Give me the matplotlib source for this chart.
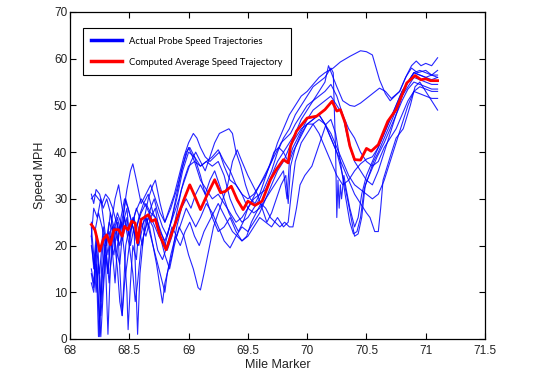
import matplotlib
matplotlib.use('Agg')
import matplotlib.pyplot as plt
from matplotlib.lines import Line2D

# probe trajectories, (mile marker, speed mph)
probe1 = [(68.18, 30), (68.21, 31), (68.24, 30), (68.27, 29), (68.30, 31), (68.33, 30), (68.36, 28), (68.39, 25),
          (68.42, 23), (68.45, 27), (68.48, 32), (68.51, 36), (68.53, 37.5), (68.56, 34), (68.60, 29), (68.64, 31),
          (68.68, 33), (68.72, 30), (68.76, 27), (68.80, 25), (68.84, 28), (68.88, 31), (68.92, 35), (68.96, 39),
          (69.00, 42), (69.04, 44), (69.07, 43), (69.10, 41), (69.14, 39), (69.18, 38), (69.22, 39), (69.26, 40),
          (69.30, 37), (69.35, 34), (69.40, 33), (69.45, 31), (69.50, 30), (69.55, 31), (69.60, 33), (69.65, 35),
          (69.70, 38), (69.75, 42), (69.80, 45), (69.85, 48), (69.90, 50), (69.95, 52), (70.00, 53), (70.05, 54.5),
          (70.10, 56), (70.15, 57), (70.22, 58), (70.28, 59.3), (70.36, 60.5), (70.45, 61.7), (70.50, 61.5),
          (70.55, 60.8), (70.61, 55.5), (70.66, 52.5), (70.70, 51), (70.78, 53), (70.84, 56.5), (70.88, 58.5),
          (70.92, 59.5), (70.96, 58.5), (71.00, 59), (71.05, 58.5), (71.10, 60.2)]
probe2 = [(68.18, 14), (68.20, 11), (68.22, 18), (68.24, 0.5), (68.26, 12), (68.28, 22), (68.30, 16), (68.32, 1),
          (68.34, 15), (68.38, 24), (68.42, 20), (68.46, 26), (68.50, 22), (68.55, 27), (68.60, 30), (68.65, 28),
          (68.70, 25), (68.75, 22), (68.80, 20), (68.85, 25), (68.90, 30), (68.95, 36), (69.00, 40), (69.05, 39),
          (69.10, 37), (69.15, 38), (69.20, 37), (69.25, 38), (69.30, 35), (69.35, 30), (69.40, 27), (69.45, 25),
          (69.50, 26), (69.55, 28), (69.60, 30), (69.65, 33), (69.70, 36), (69.75, 40), (69.80, 43), (69.85, 45),
          (69.90, 48), (69.95, 50), (70.00, 52), (70.05, 54), (70.10, 55), (70.15, 56), (70.20, 58), (70.22, 57),
          (70.24, 40), (70.25, 26), (70.26, 34), (70.27, 28), (70.28, 33), (70.29, 30), (70.31, 35), (70.33, 32),
          (70.36, 28), (70.40, 24), (70.43, 26), (70.46, 31), (70.50, 35), (70.55, 38), (70.60, 41), (70.65, 44),
          (70.70, 47), (70.75, 50), (70.80, 53), (70.85, 55), (70.90, 57), (70.95, 56.5), (71.00, 56), (71.05, 55.5),
          (71.10, 56)]
probe3 = [(68.18, 22), (68.20, 15), (68.23, 22), (68.26, 8), (68.29, 20), (68.33, 23), (68.37, 18), (68.40, 25),
          (68.44, 5), (68.47, 20), (68.50, 24), (68.54, 26), (68.58, 20), (68.62, 25), (68.66, 30), (68.70, 33),
          (68.72, 34), (68.76, 29), (68.80, 25), (68.85, 28), (68.90, 32), (68.95, 37), (69.00, 41), (69.05, 38),
          (69.10, 34), (69.15, 32), (69.20, 30), (69.25, 31), (69.30, 29), (69.35, 27), (69.40, 25), (69.45, 26),
          (69.50, 28), (69.55, 30), (69.60, 31), (69.65, 32), (69.70, 35), (69.75, 38), (69.80, 40), (69.85, 42),
          (69.90, 44), (69.95, 47), (70.00, 49), (70.05, 51), (70.10, 53), (70.15, 55), (70.18, 58.5), (70.25, 54),
          (70.30, 51), (70.36, 50), (70.40, 49.8), (70.45, 50.5), (70.50, 51.5), (70.55, 52.5), (70.61, 53.7),
          (70.66, 53), (70.71, 51.5), (70.78, 53), (70.83, 56), (70.88, 58), (70.93, 57), (71.00, 57.5),
          (71.05, 56.5), (71.10, 57.5)]
probe4 = [(68.18, 12), (68.20, 10), (68.22, 16), (68.24, 8), (68.26, 0.5), (68.28, 10), (68.30, 18), (68.32, 14),
          (68.34, 20), (68.36, 24), (68.39, 19), (68.42, 16), (68.45, 25), (68.48, 28), (68.50, 22), (68.53, 26),
          (68.56, 24), (68.60, 27), (68.64, 29), (68.68, 27), (68.72, 26), (68.76, 23), (68.80, 21), (68.84, 24),
          (68.88, 27), (68.92, 30), (68.96, 34), (69.00, 37), (69.05, 38), (69.10, 37), (69.15, 38), (69.20, 39),
          (69.25, 40.5), (69.30, 38), (69.35, 36), (69.40, 33), (69.45, 31), (69.50, 28), (69.55, 27), (69.60, 28),
          (69.65, 30), (69.70, 32), (69.75, 34), (69.80, 36), (69.83, 30), (69.85, 38), (69.88, 40), (69.92, 42),
          (69.96, 44), (70.00, 46), (70.05, 47), (70.10, 48), (70.15, 46), (70.20, 43), (70.25, 40), (70.30, 35),
          (70.34, 30), (70.37, 26), (70.40, 22), (70.43, 22.5), (70.46, 26), (70.49, 33), (70.54, 36), (70.59, 39),
          (70.65, 42), (70.70, 45), (70.75, 48), (70.80, 51), (70.85, 53.5), (70.90, 55), (70.95, 54.5),
          (71.00, 54), (71.05, 53.5), (71.10, 53.5)]
probe5 = [(68.18, 20), (68.20, 16), (68.22, 22), (68.25, 0.5), (68.27, 14), (68.30, 20), (68.33, 12), (68.36, 22),
          (68.40, 26), (68.44, 21), (68.48, 26), (68.51, 20), (68.54, 24), (68.57, 1), (68.59, 14), (68.62, 22),
          (68.66, 26), (68.70, 24), (68.74, 19), (68.78, 17), (68.82, 20), (68.86, 24), (68.90, 22), (68.94, 25),
          (68.98, 28), (69.02, 26), (69.06, 24), (69.10, 26), (69.15, 29), (69.20, 27), (69.25, 24), (69.30, 21),
          (69.35, 19.5), (69.40, 22), (69.45, 24), (69.50, 23), (69.55, 25), (69.60, 27), (69.65, 30), (69.70, 33),
          (69.75, 36), (69.80, 38), (69.85, 41), (69.90, 43), (69.95, 45), (70.00, 46), (70.05, 47), (70.10, 48),
          (70.15, 46), (70.20, 43), (70.25, 40), (70.30, 37), (70.35, 34), (70.40, 31), (70.45, 29), (70.50, 27),
          (70.53, 26), (70.57, 23), (70.60, 23), (70.62, 28), (70.64, 34), (70.70, 39), (70.75, 43), (70.81, 45),
          (70.87, 50), (70.91, 54), (70.95, 55), (71.00, 53), (71.05, 51), (71.10, 49)]
probe6 = [(68.18, 25), (68.21, 23), (68.24, 27), (68.27, 24), (68.30, 20), (68.33, 25), (68.36, 23), (68.40, 27),
          (68.44, 24), (68.47, 30), (68.50, 27), (68.54, 23), (68.57, 20), (68.60, 24), (68.64, 26), (68.68, 22),
          (68.72, 18), (68.76, 14), (68.80, 10), (68.82, 14), (68.85, 18), (68.89, 22), (68.93, 20), (68.97, 23),
          (69.01, 25), (69.05, 22), (69.09, 20), (69.13, 23), (69.17, 25), (69.21, 27), (69.25, 29), (69.29, 27),
          (69.33, 25), (69.37, 23), (69.41, 22), (69.45, 21), (69.49, 22), (69.53, 25), (69.57, 27), (69.61, 29),
          (69.65, 28), (69.69, 26), (69.73, 25), (69.77, 24), (69.81, 25), (69.85, 24), (69.88, 24), (69.91, 28),
          (69.94, 33), (69.98, 35), (70.04, 37), (70.08, 40), (70.12, 43), (70.16, 46), (70.20, 47), (70.24, 44),
          (70.28, 38), (70.32, 31), (70.36, 25), (70.39, 22.5), (70.42, 23), (70.45, 26), (70.48, 32), (70.52, 35),
          (70.56, 38), (70.60, 40), (70.65, 43), (70.70, 46), (70.75, 49), (70.80, 52), (70.85, 54), (70.90, 56),
          (70.95, 55.5), (71.00, 55), (71.05, 54.5), (71.10, 54.5)]
probe7 = [(68.18, 15), (68.20, 12), (68.22, 20), (68.25, 14), (68.28, 24), (68.31, 20), (68.34, 27), (68.37, 24),
          (68.40, 21), (68.43, 26), (68.46, 30), (68.49, 28), (68.52, 25), (68.55, 22), (68.58, 26), (68.62, 29),
          (68.66, 31), (68.70, 27), (68.74, 25), (68.78, 22), (68.82, 19), (68.86, 22), (68.90, 27), (68.94, 32),
          (68.98, 35), (69.02, 38), (69.06, 40), (69.10, 38), (69.14, 36), (69.18, 39), (69.22, 42), (69.26, 44),
          (69.30, 44.5), (69.34, 45), (69.37, 44), (69.40, 40), (69.44, 37), (69.48, 33), (69.52, 30), (69.56, 29),
          (69.60, 31), (69.64, 34), (69.68, 37), (69.72, 40), (69.76, 41), (69.80, 40), (69.84, 38), (69.88, 41),
          (69.92, 43), (69.96, 45), (70.00, 47), (70.05, 49), (70.10, 50), (70.15, 51), (70.20, 52), (70.25, 50),
          (70.30, 48), (70.35, 45), (70.40, 43), (70.45, 40), (70.50, 38), (70.55, 37), (70.60, 38), (70.65, 41),
          (70.70, 43), (70.75, 45), (70.80, 48), (70.85, 51), (70.90, 53), (70.95, 52.5), (71.00, 52),
          (71.05, 51.5), (71.10, 51.5)]
probe8 = [(68.18, 31), (68.20, 29), (68.22, 32), (68.25, 31), (68.28, 28), (68.31, 30), (68.34, 27), (68.37, 22),
          (68.40, 15), (68.42, 8), (68.44, 5), (68.46, 12), (68.49, 18), (68.52, 24), (68.56, 28), (68.60, 25),
          (68.64, 22), (68.68, 26), (68.72, 28), (68.76, 22), (68.80, 18), (68.84, 15), (68.88, 20), (68.92, 24),
          (68.96, 22), (69.00, 18), (69.04, 15), (69.08, 11), (69.10, 10.5), (69.13, 14), (69.17, 19), (69.21, 24),
          (69.25, 27), (69.29, 30), (69.33, 33), (69.37, 38), (69.41, 40.5), (69.45, 38), (69.50, 35), (69.54, 33),
          (69.58, 31), (69.62, 28), (69.66, 25), (69.70, 27), (69.74, 30), (69.78, 33), (69.82, 35), (69.84, 29),
          (69.86, 37), (69.90, 41), (69.95, 44), (70.00, 46), (70.05, 46), (70.10, 44), (70.15, 41), (70.20, 38),
          (70.25, 35), (70.30, 33), (70.35, 34), (70.40, 36), (70.45, 37.5), (70.50, 38.5), (70.55, 39), (70.60, 41),
          (70.65, 44), (70.70, 47), (70.75, 50), (70.80, 53), (70.85, 55), (70.90, 57), (70.95, 56.5), (71.00, 56),
          (71.05, 56.5), (71.10, 56.5)]
probe9 = [(68.18, 24), (68.20, 18), (68.22, 10), (68.24, 16), (68.26, 5), (68.28, 12), (68.30, 20), (68.32, 14),
          (68.34, 22), (68.36, 18), (68.38, 12), (68.40, 20), (68.43, 25), (68.46, 18), (68.48, 10), (68.49, 2),
          (68.51, 12), (68.53, 20), (68.56, 17), (68.58, 24), (68.61, 20), (68.64, 26), (68.67, 24), (68.70, 20),
          (68.73, 16), (68.76, 11), (68.78, 7.7), (68.80, 12), (68.83, 15), (68.86, 18), (68.90, 24), (68.94, 28),
          (68.98, 30), (69.02, 28), (69.06, 31), (69.10, 33), (69.14, 31), (69.18, 34), (69.22, 36), (69.26, 33),
          (69.30, 30), (69.34, 27), (69.38, 25), (69.42, 23), (69.46, 25), (69.50, 28), (69.54, 30), (69.58, 32),
          (69.62, 34), (69.66, 36), (69.70, 38), (69.74, 40), (69.78, 42), (69.82, 43), (69.86, 44), (69.90, 46),
          (69.95, 48), (70.00, 50), (70.05, 51), (70.10, 52), (70.15, 53), (70.20, 54.5), (70.25, 52), (70.30, 48),
          (70.35, 42), (70.40, 38), (70.45, 36), (70.50, 34), (70.55, 33), (70.60, 36), (70.65, 40), (70.70, 44),
          (70.75, 48), (70.80, 52), (70.85, 55), (70.90, 57), (70.95, 57.5), (71.00, 57), (71.05, 56.5),
          (71.10, 56)]
probe10 = [(68.18, 22), (68.20, 28), (68.23, 26), (68.26, 30), (68.29, 24), (68.32, 18), (68.35, 25), (68.38, 30),
           (68.41, 33), (68.44, 28), (68.47, 24), (68.50, 20), (68.53, 14), (68.55, 8), (68.57, 12), (68.60, 20),
           (68.64, 24), (68.68, 28), (68.71, 30), (68.74, 27), (68.78, 24), (68.82, 22), (68.86, 26), (68.90, 31),
           (68.94, 36), (68.98, 40), (69.01, 41), (69.05, 39), (69.10, 35), (69.15, 30), (69.20, 26), (69.25, 23),
           (69.30, 24), (69.35, 26), (69.40, 23), (69.45, 21), (69.50, 22), (69.55, 24), (69.60, 26), (69.65, 25),
           (69.70, 24), (69.75, 26), (69.80, 24), (69.84, 25), (69.87, 32), (69.90, 38), (69.95, 42), (70.00, 44),
           (70.05, 46), (70.10, 47), (70.15, 46), (70.20, 44), (70.25, 41), (70.30, 38), (70.35, 35), (70.40, 33),
           (70.45, 32), (70.50, 31), (70.55, 30), (70.60, 31), (70.65, 34), (70.70, 38), (70.75, 42), (70.80, 46),
           (70.85, 50), (70.90, 53), (70.95, 54), (71.00, 53.5), (71.05, 53), (71.10, 53)]
probes = [probe1, probe2, probe3, probe4, probe5, probe6, probe7, probe8, probe9, probe10]

# average speed trajectory
avg_mile = [68.18, 68.21, 68.24, 68.25, 68.28, 68.31, 68.34, 68.37, 68.41, 68.44, 68.46, 68.49, 68.52, 68.55,
            68.57, 68.60, 68.66, 68.69, 68.72, 68.76, 68.81, 68.84, 68.90, 68.96, 69.01, 69.04, 69.10, 69.15,
            69.22, 69.27, 69.31, 69.36, 69.41, 69.46, 69.50, 69.56, 69.62, 69.69, 69.74, 69.80, 69.84, 69.86,
            69.91, 70.00, 70.08, 70.15, 70.21, 70.25, 70.28, 70.32, 70.36, 70.40, 70.45, 70.50, 70.54, 70.60,
            70.68, 70.75, 70.84, 70.91, 70.96, 71.00, 71.04, 71.10]
avg_speed = [24.5, 23.4, 20.2, 18.8, 21.3, 22.3, 20.2, 23.4, 23.4, 22.0, 24.1, 23.4, 25.2, 24.8,
             20.6, 25.6, 26.6, 25.2, 25.6, 22.0, 19.1, 21.3, 25.6, 29.8, 33.0, 31.3, 27.7, 30.5,
             34.1, 31.3, 31.6, 32.7, 29.8, 27.7, 29.5, 28.6, 29.5, 34.1, 36.3, 38.4, 37.7, 41.3,
             44.5, 47.3, 47.7, 49.1, 50.9, 48.8, 49.1, 46.3, 41.3, 38.4, 38.3, 40.8, 40.2, 41.6,
             46.6, 49.1, 54.8, 56.4, 55.5, 55.7, 55.3, 55.3]

x_ticks = [68, 68.5, 69, 69.5, 70, 70.5, 71, 71.5]
x_labels = ['68', '68.5', '69', '69.5', '70', '70.5', '71', '71.5']
y_ticks = [0, 10, 20, 30, 40, 50, 60, 70]

plt.rcParams['font.family'] = ['Liberation Sans', 'DejaVu Sans']

fig = plt.figure(figsize=(5.36, 3.77), dpi=100)
ax = fig.add_axes([0.1306, 0.1008, 0.7743, 0.8674])

for p in probes:
    ax.plot([m for m, s in p], [s for m, s in p], color='#0000ff', lw=0.8, alpha=0.85)
ax.plot(avg_mile, avg_speed, color='#ff0000', lw=2.0)

ax.set_xlim(68, 71.5)
ax.set_ylim(0, 70)
ax.set_xticks(x_ticks)
ax.set_xticklabels(x_labels)
ax.set_yticks(y_ticks)
ax.tick_params(direction='in', length=4, width=0.8, top=True, right=True, labelsize=8.5,
               labelcolor='#222222')
ax.tick_params(axis='x', pad=4)
ax.tick_params(axis='y', pad=2)
for sp in ax.spines.values():
    sp.set_linewidth(0.9)
ax.set_xlabel('Mile Marker', fontsize=9, labelpad=2, color='#222222')
ax.set_ylabel('Speed MPH', fontsize=9, labelpad=6, color='#222222')

handles = [Line2D([], [], color='#0000ff', lw=2.5), Line2D([], [], color='#ff0000', lw=2.5)]
leg = ax.legend(handles, ['Actual Probe Speed Trajectories', 'Computed Average Speed Trajectory'],
                loc='upper left', bbox_to_anchor=(0.031, 0.951), borderaxespad=0, fancybox=False,
                edgecolor='black', framealpha=1, prop={'family': 'Lato', 'size': 6.8},
                handlelength=3.2, labelspacing=1.3, borderpad=0.9, handletextpad=0.8)
leg.get_frame().set_linewidth(0.8)

fig.savefig('out.png', dpi=100)
